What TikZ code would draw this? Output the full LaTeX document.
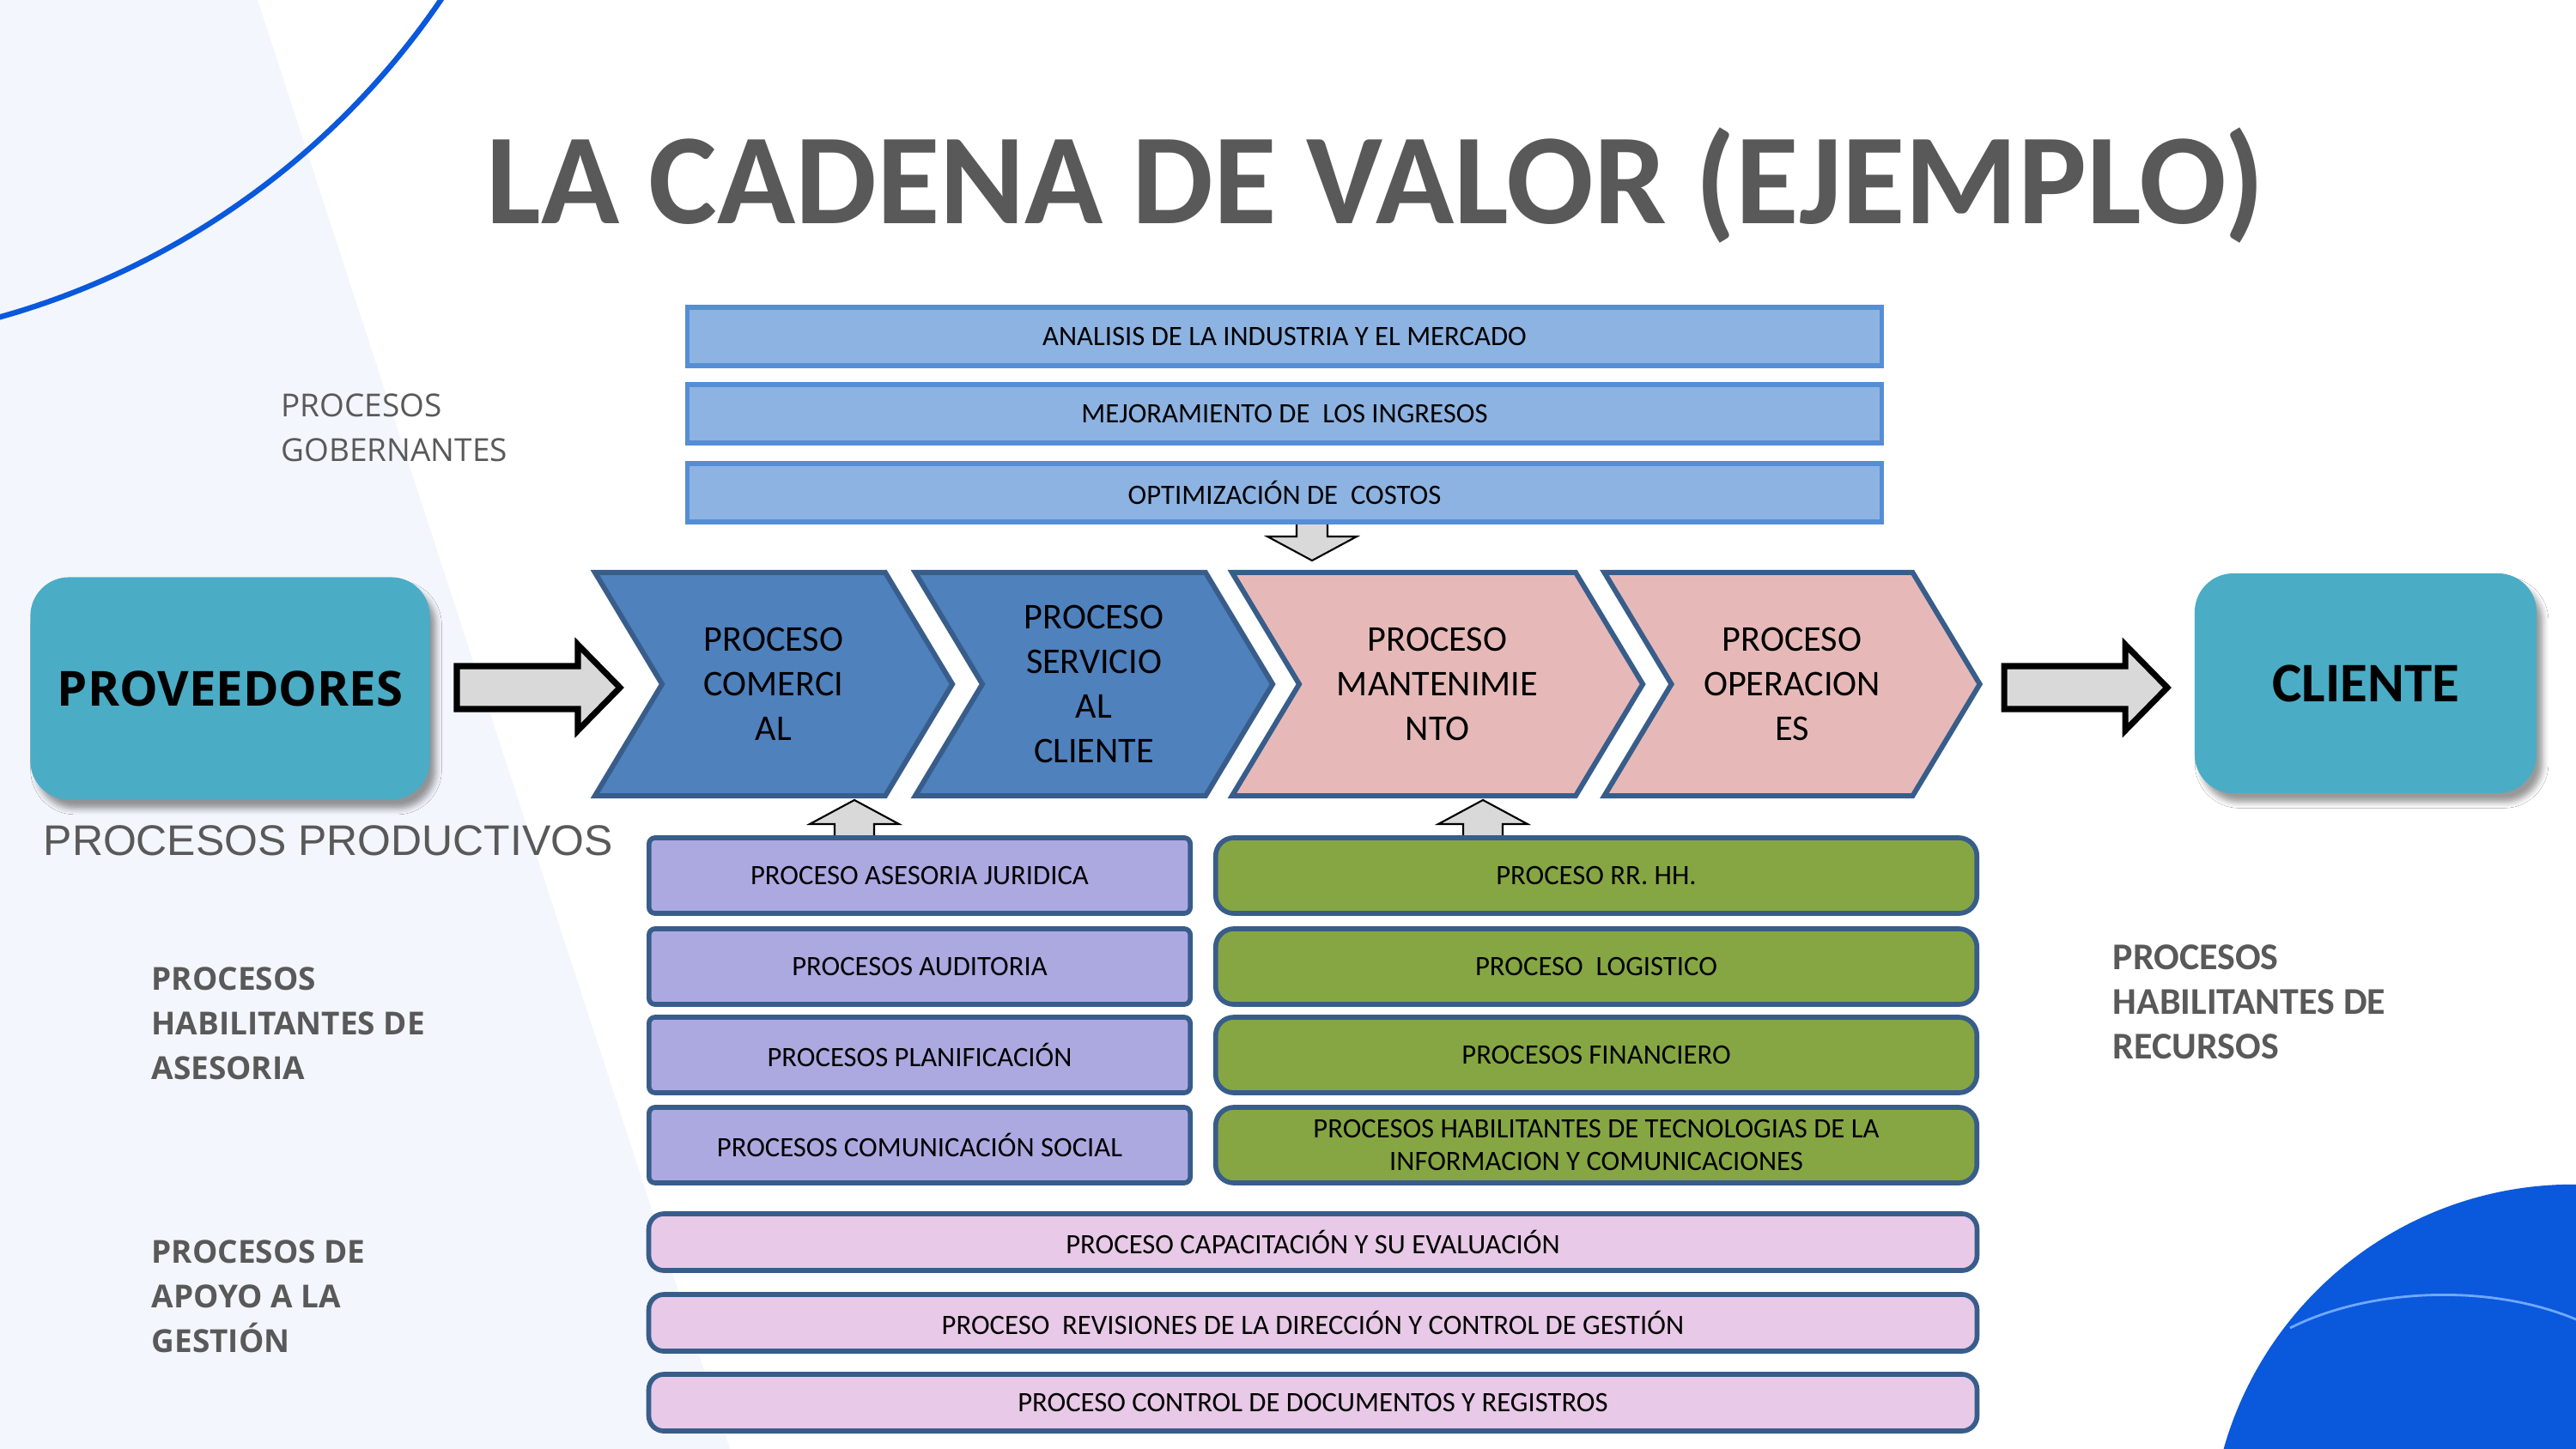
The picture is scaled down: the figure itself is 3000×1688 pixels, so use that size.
\documentclass[tikz,border=0pt]{standalone}
\usepackage{fontspec}
\setmainfont{Carlito}
\newfontfamily\opensans{Open Sans}
\newfontfamily\arialike{Liberation Sans}
\usepackage{tikz}
\usetikzlibrary{shapes.symbols, shadows.blur}
\definecolor{govfill}{HTML}{8DB3E2}
\definecolor{govline}{HTML}{558ED5}
\definecolor{chevblue}{HTML}{4F81BD}
\definecolor{chevpink}{HTML}{E6B9B8}
\definecolor{chevline}{HTML}{385D8A}
\definecolor{endteal}{HTML}{4BACC6}
\definecolor{lilac}{HTML}{ACA9E1}
\definecolor{leafgreen}{HTML}{86A643}
\definecolor{softpink}{HTML}{E8C9E7}
\definecolor{arrowgray}{HTML}{D9D9D9}
\definecolor{labelgray}{HTML}{595959}
\definecolor{bgtint}{HTML}{F3F6FC}
\definecolor{decoblue}{HTML}{0A58DC}
\definecolor{decolight}{HTML}{6FA8FF}
\newcommand{\procfont}{\fontsize{9.3}{11}\selectfont}

\begin{document}
\begin{tikzpicture}[
          x=0.01cm, y=-0.01cm,
          govbox/.style={rectangle, draw=govline, line width=1.6pt, fill=govfill, minimum width=13.9cm, minimum height=0.68cm, inner sep=0pt, font=\procfont},
          chevron/.style={signal, signal to=east, signal from=west, signal pointer angle=118, draw=chevline, line width=1.7pt, minimum height=2.6cm, inner sep=0pt, align=center, font=\fontsize{12}{14.8}\selectfont},
          endbox/.style={rectangle, rounded corners=0.45cm, fill=endteal, blur shadow={shadow xshift=2pt, shadow yshift=-3pt, shadow opacity=40}},
          asesbox/.style={rectangle, draw=chevline, line width=1.6pt, fill=lilac, rounded corners=2pt, minimum width=6.3cm, minimum height=0.88cm, inner sep=0pt, align=center, font=\procfont},
          recbox/.style={rectangle, draw=chevline, line width=1.6pt, fill=leafgreen, rounded corners=6pt, minimum width=8.86cm, minimum height=0.88cm, inner sep=0pt, align=center, font=\procfont},
          apoyobox/.style={rectangle, draw=chevline, line width=1.6pt, fill=softpink, rounded corners=5pt, minimum width=15.46cm, minimum height=0.66cm, inner sep=0pt, font=\procfont},
          bigarrow/.style={draw=black, line width=2pt, fill=arrowgray, line join=miter},
          smallarrow/.style={draw=black, line width=0.6pt, fill=arrowgray},
          sidelabel/.style={anchor=west, align=left, inner sep=0pt, text=labelgray}
        ]
          \useasboundingbox (0,0) rectangle (3000,1688);
          \fill[white] (0,0) rectangle (3000,1688);

          % Background
          \begin{scope}
            \clip (0,0) rectangle (3000,1688);
            \fill[bgtint] (0,0) -- (300,0) -- (850,1688) -- (0,1688) -- cycle;
            \draw[decoblue, line width=1.8pt] (-250,-520) circle[radius=9.23cm];
            \fill[decoblue] (2997,1803) circle[radius=4.23cm];
            \draw[decolight, line width=0.8pt] (2667,1547) .. controls (2760,1500) and (2900,1495) .. (3000,1537);
          \end{scope}

          % Title
          \node[font=\bfseries\fontsize{42.8}{50}\selectfont, text=labelgray] (title) at (1602,216) {LA CADENA DE VALOR (EJEMPLO)};

          % Support arrows
          \draw[smallarrow] (1510,608) -- (1546,608) -- (1546,625) -- (1580,625) -- (1528,653) -- (1476,625) -- (1510,625) -- cycle;
          \draw[smallarrow] (972,978) -- (1018,978) -- (1018,960) -- (1047,960) -- (995,932) -- (943,960) -- (972,960) -- cycle;
          \draw[smallarrow] (1704,978) -- (1750,978) -- (1750,960) -- (1779,960) -- (1727,932) -- (1675,960) -- (1704,960) -- cycle;

          % Governing processes
          \node[govbox] (analisis) at (1496,392) {ANALISIS DE LA INDUSTRIA Y EL MERCADO};
          \node[govbox] (ingresos) at (1496,482) {MEJORAMIENTO DE\ \ LOS INGRESOS};
          \node[govbox] (costos) at (1496,574) {OPTIMIZACIÓN DE\ \ COSTOS};

          % Value chain
          \node[chevron, fill=chevblue, minimum width=4.16cm] (comercial) at (901,797) {PROCESO\\COMERCI\\AL};
          \node[chevron, fill=chevblue, minimum width=4.16cm] (servicio) at (1274,797) {PROCESO\\SERVICIO\\AL\\CLIENTE};
          \node[chevron, fill=chevpink, minimum width=4.78cm] (mantenimiento) at (1674,797) {PROCESO\\MANTENIMIE\\NTO};
          \node[chevron, fill=chevpink, minimum width=4.37cm] (operaciones) at (2087,797) {PROCESO\\OPERACION\\ES};

          % Suppliers and client
          \node[endbox, minimum width=4.65cm, minimum height=2.59cm, font=\opensans\bfseries\fontsize{16}{19}\selectfont] (proveedores) at (268,802) {PROVEEDORES};
          \node[endbox, minimum width=3.98cm, minimum height=2.56cm, font=\bfseries\fontsize{18.5}{22}\selectfont] (cliente) at (2755,796) {CLIENTE};
          \draw[bigarrow] (532,776) -- (673,776) -- (673,751) -- (722,801) -- (673,851) -- (673,826) -- (532,826) -- cycle;
          \draw[bigarrow] (2334,776) -- (2475,776) -- (2475,751) -- (2524,801) -- (2475,851) -- (2475,826) -- (2334,826) -- cycle;

          % Advisory processes
          \node[asesbox] (juridica) at (1071,1020) {PROCESO ASESORIA JURIDICA};
          \node[asesbox] (auditoria) at (1071,1126) {PROCESOS AUDITORIA};
          \node[asesbox] (planificacion) at (1071,1229) {PROCESOS PLANIFICACIÓN};
          \node[asesbox] (comunicacion) at (1071,1334) {PROCESOS COMUNICACIÓN SOCIAL};

          % Resource processes
          \node[recbox] (rrhh) at (1859,1020) {PROCESO RR. HH.};
          \node[recbox] (logistico) at (1859,1126) {PROCESO\ \ LOGISTICO};
          \node[recbox] (financiero) at (1859,1229) {PROCESOS FINANCIERO};
          \node[recbox] (tic) at (1859,1334) {PROCESOS HABILITANTES DE TECNOLOGIAS DE LA\\INFORMACION Y COMUNICACIONES};

          % Management support
          \node[apoyobox] (capacitacion) at (1529,1447) {PROCESO CAPACITACIÓN Y SU EVALUACIÓN};
          \node[apoyobox] (revisiones) at (1529,1541) {PROCESO\ \ REVISIONES DE LA DIRECCIÓN Y CONTROL DE GESTIÓN};
          \node[apoyobox] (documentos) at (1529,1634) {PROCESO CONTROL DE DOCUMENTOS Y REGISTROS};

          % Labels
          \node[sidelabel, font=\opensans\fontsize{10.5}{14.8}\selectfont] (gobernantes) at (327,498) {PROCESOS\\GOBERNANTES};
          \node[sidelabel, font=\arialike\fontsize{14.2}{17}\selectfont] (productivos) at (50,979) {PROCESOS PRODUCTIVOS};
          \node[sidelabel, font=\opensans\bfseries\fontsize{10.5}{14.8}\selectfont] (asesoria) at (176,1192) {PROCESOS\\HABILITANTES DE\\ASESORIA};
          \node[sidelabel, font=\opensans\bfseries\fontsize{10.5}{14.8}\selectfont] (apoyo) at (176,1510) {PROCESOS DE\\APOYO A LA\\GESTIÓN};
          \node[sidelabel, font=\bfseries\fontsize{12.5}{14.8}\selectfont] (recursos) at (2460,1167) {PROCESOS\\HABILITANTES DE\\RECURSOS};
        \end{tikzpicture}
\end{document}
